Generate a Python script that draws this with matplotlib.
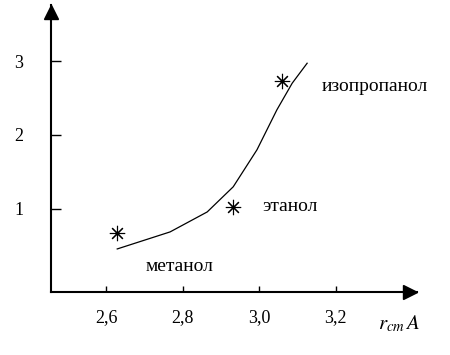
import matplotlib
matplotlib.use("Agg")
import matplotlib.pyplot as plt

plt.rcParams['font.family'] = ['Liberation Serif', 'DejaVu Serif']
plt.rcParams['mathtext.fontset'] = 'stix'

# curve r_cm (A) vs value
curve_x = [2.629, 2.767, 2.864, 2.932, 2.994, 3.046, 3.086, 3.125]
curve_y = [0.46, 0.69, 0.96, 1.30, 1.80, 2.34, 2.70, 2.97]

# experimental points
point_names = ['метанол', 'этанол', 'изопропанол']
point_x = [2.629, 2.932, 3.060]
point_y = [0.68, 1.03, 2.73]
label_x = [2.702, 3.007, 3.164]
label_y = [0.22, 1.03, 2.65]

xticks = [2.6, 2.8, 3.0, 3.2]
xticklabels = ['2,6', '2,8', '3,0', '3,2']
yticks = [1, 2, 3]

xmin, xmax = 2.456, 3.412
ymin, ymax = -0.122, 3.757

fig = plt.figure(figsize=(4.5, 3.55), dpi=100, facecolor='white')
ax = fig.add_axes([51 / 450, 63 / 355, 366 / 450, 287 / 355])
ax.set_xlim(xmin, xmax)
ax.set_ylim(ymin, ymax)

for s in ['top', 'right']:
    ax.spines[s].set_visible(False)
for s in ['left', 'bottom']:
    ax.spines[s].set_linewidth(1.5)
    ax.spines[s].set_color('black')

# arrow heads, tips at the axis ends
ax.plot([xmin], [3.662], marker='^', markersize=10, color='black', clip_on=False)
ax.plot([3.394], [ymin], marker='>', markersize=10, color='black', clip_on=False)

ax.plot(curve_x, curve_y, color='black', linewidth=0.9)
ax.plot(point_x, point_y, linestyle='none', marker=(8, 2, 0), markersize=11,
        markeredgewidth=0.8, color='black')

for name, tx, ty in zip(point_names, label_x, label_y):
    ax.text(tx, ty, name, fontsize=14, va='center', ha='left')

ax.set_xticks(xticks)
ax.set_xticklabels(xticklabels)
ax.set_yticks(yticks)
ax.set_yticklabels([str(v) for v in yticks])
ax.tick_params(axis='x', direction='in', length=4, width=1, pad=12, labelsize=13)
ax.tick_params(axis='y', direction='in', length=7, width=1, pad=20, labelsize=13)

fig.text(378 / 450, 1 - 324 / 355, r'$r_{cm}\,A$', fontsize=15, ha='left', va='center')

fig.savefig('out.png', dpi=100, facecolor='white')
